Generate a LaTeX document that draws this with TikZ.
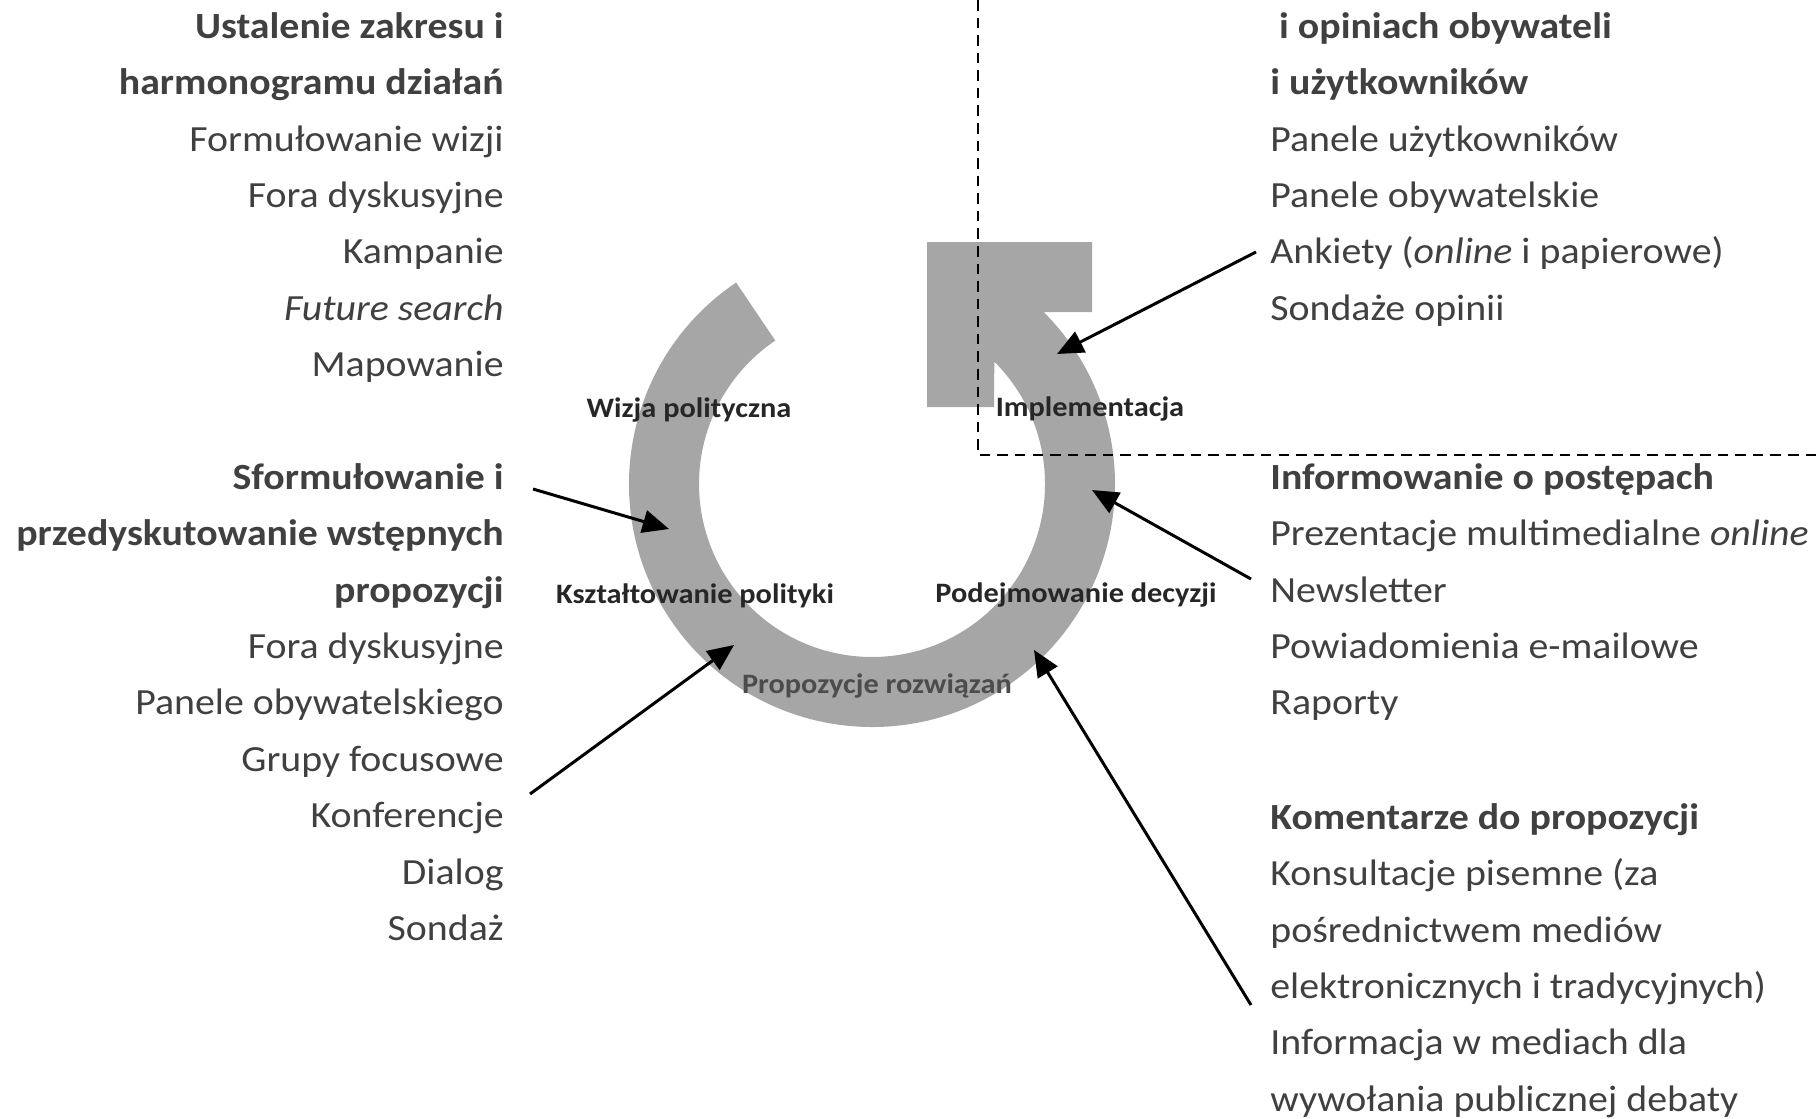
\documentclass[tikz,border=0pt]{standalone}
\usepackage{fontspec}
\setmainfont{Carlito}[FakeStretch=1.08]
\usetikzlibrary{arrows.meta}
\definecolor{ringgray}{RGB}{166,166,166}
\definecolor{txtgray}{RGB}{64,64,64}
\begin{document}
\begin{tikzpicture}[x=0.02cm,y=-0.02cm,
        body/.style={inner sep=0pt,text=txtgray,font=\fontsize{21}{32.1}\selectfont},
        leftcol/.style={body,anchor=north east,align=right},
        rightcol/.style={body,anchor=north west,align=left},
        stage/.style={inner sep=0pt,text=black!85,font=\fontsize{16}{20}\selectfont\bfseries},
        pointer/.style={line width=1.7pt,-{Triangle[length=15pt,width=13pt]}},
        border/.style={line width=1.4pt,dash pattern=on 6pt off 4pt}]
        \useasboundingbox (0,0) rectangle (1816,1119);
        \clip (0,0) rectangle (1816,1119);

        \coordinate (ctr) at (872,484);
        \fill[ringgray] ([shift={(-124:243)}]ctr) arc[start angle=-124,end angle=-405,radius=243]
         -- (1092,312) -- (1092,242) -- (927,242) -- (927,407) -- (994,407)
         -- ([shift={(-405:173)}]ctr) arc[start angle=-405,end angle=-124,radius=173] -- cycle;
        \draw[border] (978,0) -- (978,455) -- (1816,455);

        \node[stage] (wizja) at (689,410) {Wizja polityczna};
        \node[stage] (impl) at (1090,409) {Implementacja};
        \node[stage] (ksztalt) at (695,596) {Kształtowanie polityki};
        \node[stage] (decyzje) at (1076,595) {Podejmowanie decyzji};
        \node[stage,text=black!70] (propoz) at (877,686) {Propozycje rozwiązań};

        \node[leftcol] (zakres) at (504,12) {\textbf{Ustalenie zakresu i}\\
         \textbf{harmonogramu działań}\\ Formułowanie wizji\\ Fora dyskusyjne\\
         Kampanie\\ \textit{Future search}\\ Mapowanie};
        \node[leftcol] (wstepne) at (504,463) {\textbf{Sformułowanie i}\\
         \textbf{przedyskutowanie wstępnych}\\ \textbf{propozycji}\\ Fora dyskusyjne\\
         Panele obywatelskiego\\ Grupy focusowe\\ Konferencje\\ Dialog\\ Sondaż};
        \node[rightcol] (opinie) at (1270,12) {\hspace*{5pt}\textbf{i opiniach obywateli}\\
         \textbf{i użytkowników}\\ Panele użytkowników\\ Panele obywatelskie\\
         Ankiety (\textit{online} i papierowe)\\ Sondaże opinii};
        \node[rightcol] (postepy) at (1270,463) {\textbf{Informowanie o postępach}\\
         Prezentacje multimedialne \textit{online}\\ Newsletter\\
         Powiadomienia e-mailowe\\ Raporty};
        \node[rightcol] (komentarze) at (1270,803) {\textbf{Komentarze do propozycji}\\
         Konsultacje pisemne (za\\ pośrednictwem mediów\\
         elektronicznych i tradycyjnych)\\ Informacja w mediach dla\\
         wywołania publicznej debaty};

        \coordinate (ankiety) at (1256,252);
        \coordinate (news) at (1251,579);
        \coordinate (konsult) at (1251,1005);
        \coordinate (sform) at (533,489);
        \coordinate (konf) at (530,794);
        \coordinate (implin) at (1057,354);
        \coordinate (decin) at (1092,490);
        \coordinate (propin) at (1034,650);
        \coordinate (kszin) at (669,529);
        \coordinate (wstin) at (734,645);
        \draw[pointer] (ankiety) -- (implin);
        \draw[pointer] (news) -- (decin);
        \draw[pointer] (konsult) -- (propin);
        \draw[pointer] (sform) -- (kszin);
        \draw[pointer] (konf) -- (wstin);
    \end{tikzpicture}
\end{document}
